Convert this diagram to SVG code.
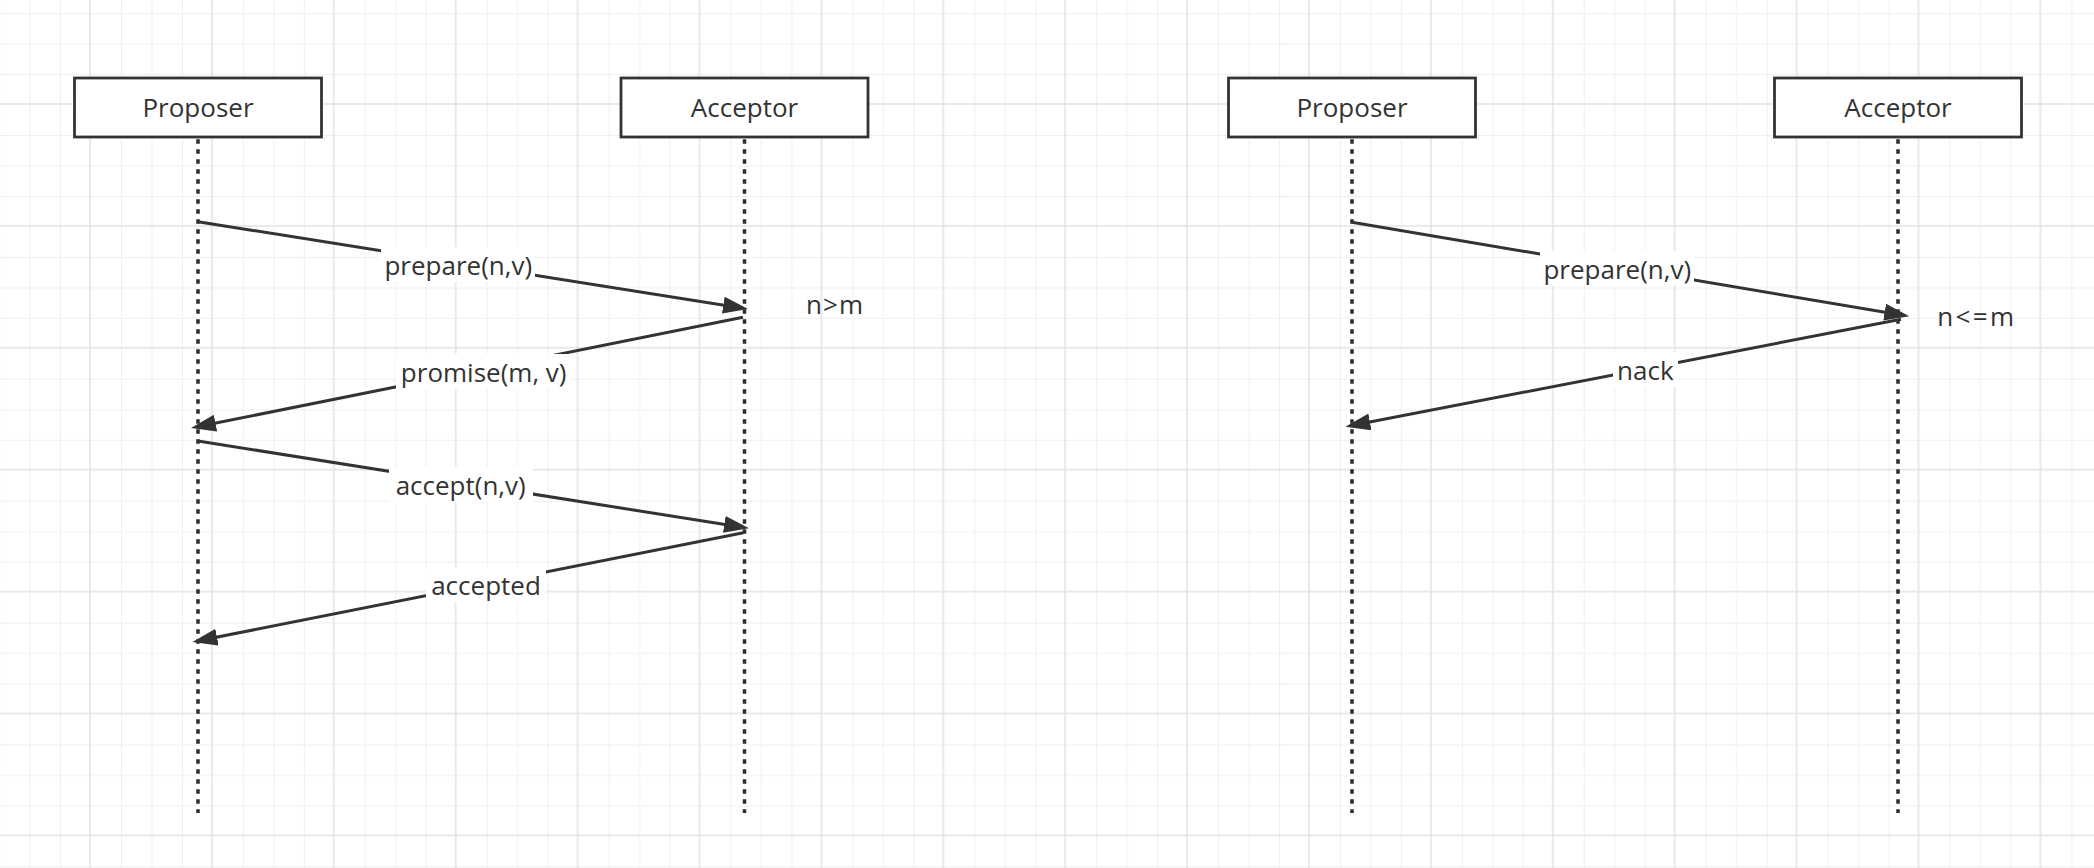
<svg xmlns="http://www.w3.org/2000/svg" width="2094" height="868" viewBox="0 0 2094 868">
  <style>
    .box { fill: #ffffff; stroke: #333333; stroke-width: 2.8; }
    .life { stroke: #2b2b2b; stroke-width: 3.5; stroke-dasharray: 4.5 5.5; fill: none; }
    .msg { stroke: #333333; stroke-width: 3; fill: none; marker-end: url(#arrow); }
    .lbl { font-family: "Open Sans", "Noto Sans", "Liberation Sans", sans-serif; font-size: 26px; fill: #333333; }
    .mid { text-anchor: middle; }
    .bg { fill: #ffffff; }
  </style>
  <defs>
    <pattern id="grid" x="89" y="103" width="121.9" height="121.9" patternUnits="userSpaceOnUse">
      <path d="M32.475 0V121.9M62.95 0V121.9M93.425 0V121.9M0 32.475H121.9M0 62.95H121.9M0 93.425H121.9" stroke="#efefef" stroke-width="1" fill="none"/>
      <path d="M1 0V121.9M0 1H121.9" stroke="#e2e2e2" stroke-width="1.5" fill="none"/>
    </pattern>
    <marker id="arrow" viewBox="0 0 25 17" markerUnits="userSpaceOnUse" markerWidth="25" markerHeight="17" refX="20" refY="8.5" orient="auto">
      <path d="M0 0L25 8.5L0 17Z" fill="#333333"/>
    </marker>
  </defs>
  <rect x="0" y="0" width="2094" height="868" fill="#ffffff"/>
  <rect x="0" y="0" width="2094" height="868" fill="url(#grid)"/>

  <g id="proposer-left">
    <line class="life" x1="198" y1="139.3" x2="198" y2="813"/>
    <rect class="box" x="74.5" y="78" width="247" height="59"/>
    <text class="lbl mid" x="198" y="116.7">Proposer</text>
  </g>
  <g id="acceptor-left">
    <line class="life" x1="744.5" y1="139.3" x2="744.5" y2="813"/>
    <rect class="box" x="621" y="78" width="247" height="59"/>
    <text class="lbl mid" x="744.5" y="116.7">Acceptor</text>
  </g>
  <g id="proposer-right">
    <line class="life" x1="1352" y1="139.3" x2="1352" y2="813"/>
    <rect class="box" x="1228.5" y="78" width="247" height="59"/>
    <text class="lbl mid" x="1352" y="116.7">Proposer</text>
  </g>
  <g id="acceptor-right">
    <line class="life" x1="1898" y1="139.3" x2="1898" y2="813"/>
    <rect class="box" x="1774.5" y="78" width="247" height="59"/>
    <text class="lbl mid" x="1898" y="116.7">Acceptor</text>
  </g>

  <g id="note-left">
    <text class="lbl" x="806" y="313.5" textLength="57" lengthAdjust="spacing">n&gt;m</text>
  </g>
  <g id="note-right">
    <text class="lbl" x="1937.3" y="325.5" textLength="76.7" lengthAdjust="spacing">n&lt;=m</text>
  </g>

  <g id="connectors">
    <line class="msg" x1="198" y1="221.7" x2="743.06" y2="308.22"/>
    <line class="msg" x1="743" y1="317.3" x2="195.9" y2="427.02"/>
    <line class="msg" x1="198" y1="441" x2="744.06" y2="527.52"/>
    <line class="msg" x1="743.4" y1="532.7" x2="197.4" y2="641.03"/>
    <line class="msg" x1="1352" y1="222.3" x2="1904.37" y2="315.47"/>
    <line class="msg" x1="1901" y1="319.3" x2="1350.31" y2="425.75"/>

    <rect class="bg" x="381" y="247" width="154" height="35"/>
    <text class="lbl mid" x="458.3" y="275">prepare(n,v)</text>
    <rect class="bg" x="396" y="354" width="175" height="35"/>
    <text class="lbl mid" x="483.7" y="381.7">promise(m, v)</text>
    <rect class="bg" x="389" y="467" width="144" height="35"/>
    <text class="lbl mid" x="460.7" y="495">accept(n,v)</text>
    <rect class="bg" x="426" y="567" width="120" height="35"/>
    <text class="lbl mid" x="486" y="595">accepted</text>
    <rect class="bg" x="1540" y="251" width="154" height="35"/>
    <text class="lbl mid" x="1617.3" y="278.8">prepare(n,v)</text>
    <rect class="bg" x="1613" y="352" width="65" height="35"/>
    <text class="lbl mid" x="1645.3" y="380">nack</text>
  </g>
</svg>
